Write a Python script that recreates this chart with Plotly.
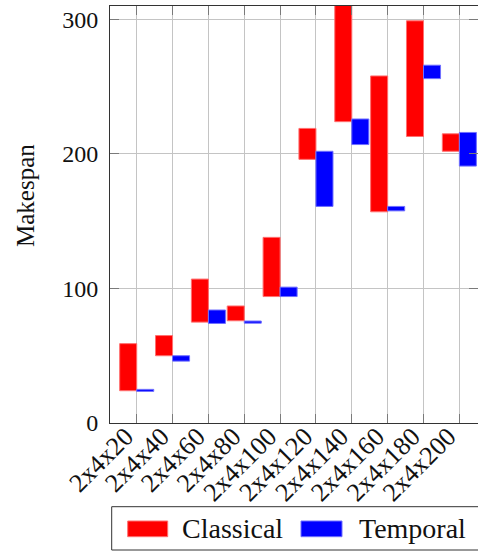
import plotly.graph_objects as go

# Instance sizes and makespan ranges (low / high) per planner
categories = ["2x4x20", "2x4x40", "2x4x60", "2x4x80", "2x4x100",
              "2x4x120", "2x4x140", "2x4x160", "2x4x180", "2x4x200"]
classical_low = [24.0, 50.0, 75.0, 76.0, 94.0, 196.0, 224.0, 157.0, 213.0, 202.0]
classical_high = [59.0, 65.0, 107.0, 87.0, 138.0, 219.0, 318.0, 258.0, 299.0, 215.0]
temporal_low = [23.5, 46.0, 74.0, 74.2, 94.0, 161.0, 207.0, 157.7, 256.0, 191.0]
temporal_high = [25.0, 50.0, 84.0, 75.8, 101.0, 202.0, 226.0, 161.0, 266.0, 216.0]
y_ticks = [0, 100, 200, 300]
series_names = ["Classical", "Temporal"]

W, H = 478, 553
ML, MR, MT, MB = 110, 0, 6, 130
PW, PH = W - ML - MR, H - MT - MB
FONT = "Liberation Serif"


def px_x(px):
    return (px - ML) / PW


def px_y(py):
    return (H - MB - py) / PH


fig = go.Figure()
fig.add_trace(go.Bar(
    x=categories,
    base=classical_low,
    y=[h - l for h, l in zip(classical_high, classical_low)],
    name=series_names[0],
    marker=dict(color="#ff0000", line=dict(color="#ff7070", width=1)),
    showlegend=False,
))
fig.add_trace(go.Bar(
    x=categories,
    base=temporal_low,
    y=[h - l for h, l in zip(temporal_high, temporal_low)],
    name=series_names[1],
    marker=dict(color="#0000ff", line=dict(color="#7070ff", width=1)),
    showlegend=False,
))

fig.update_layout(
    width=W, height=H,
    margin=dict(l=ML, r=MR, t=MT, b=MB, pad=0),
    paper_bgcolor="white", plot_bgcolor="white",
    barmode="group", bargap=0.05, bargroupgap=0.0,
    font=dict(family=FONT, size=24, color="#111111"),
)

fig.update_xaxes(
    type="category", range=[-0.745, 9.52],
    showgrid=True, gridcolor="#c4c4c4", gridwidth=1,
    showline=True, linecolor="#333333", linewidth=1, mirror="ticks",
    ticks="inside", ticklen=9, tickcolor="#7a7a7a", tickwidth=1,
    tickangle=-45, tickfont=dict(family=FONT, size=26),
    ticklabelstandoff=-13, ticklabelshift=-11,
    zeroline=False,
)
fig.update_yaxes(
    range=[0, 310], tickvals=y_ticks, ticktext=[str(v) for v in y_ticks],
    showgrid=True, gridcolor="#c4c4c4", gridwidth=1,
    showline=True, linecolor="#333333", linewidth=1, mirror="ticks",
    ticks="inside", ticklen=9, tickcolor="#7a7a7a", tickwidth=1,
    tickfont=dict(family=FONT, size=24), ticklabelstandoff=6,
    zeroline=False,
)

# y-axis label
fig.add_annotation(
    text="Makespan", textangle=-90, showarrow=False,
    xref="paper", yref="paper", x=px_x(25), y=px_y(196),
    xanchor="center", yanchor="middle",
    font=dict(family=FONT, size=25),
)

# Legend box below the axis
shapes = [
    dict(type="rect", xref="paper", yref="paper",
         x0=px_x(111.7), x1=px_x(482), y0=px_y(550), y1=px_y(506.7),
         line=dict(color="#333333", width=1), fillcolor="white"),
    dict(type="rect", xref="paper", yref="paper",
         x0=px_x(127.7), x1=px_x(167.7), y0=px_y(536.7), y1=px_y(521),
         line=dict(color="#ff7070", width=1), fillcolor="#ff0000"),
    dict(type="rect", xref="paper", yref="paper",
         x0=px_x(301), x1=px_x(342), y0=px_y(536.7), y1=px_y(521),
         line=dict(color="#7070ff", width=1), fillcolor="#0000ff"),
]
fig.update_layout(shapes=shapes)
for name, left in zip(series_names, [180, 357]):
    fig.add_annotation(
        text=name, showarrow=False, xref="paper", yref="paper",
        x=px_x(left), y=px_y(528), xanchor="left", yanchor="middle",
        font=dict(family=FONT, size=28),
    )

fig.write_html("out.html")
